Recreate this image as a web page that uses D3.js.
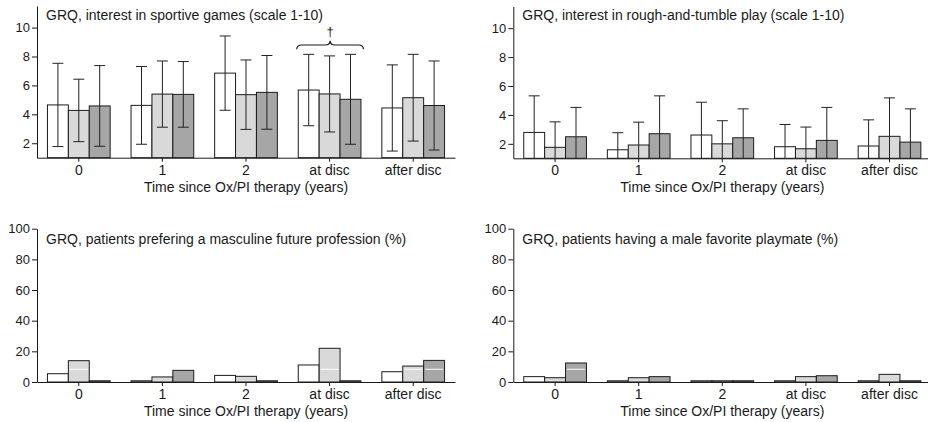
<!DOCTYPE html>
<html>
<head>
<meta charset="utf-8">
<script src="https://cdn.jsdelivr.net/npm/d3@7"></script>
<style>
  body { margin: 0; background: #fff; }
  svg { display: block; font-family: Arial, "Liberation Sans", Helvetica, sans-serif; }
</style>
</head>
<body>
<svg id="chart" width="928" height="422"></svg>
<script>
// categories on x axis
var categories = ["0", "1", "2", "at disc", "after disc"]
var seriesColors = ["#ffffff", "#d9d9d9", "#a6a6a6"]

// interest in sportive games (mean, sd)
var sportMeanA = [4.65, 4.62, 6.85, 5.68, 4.44]
var sportMeanB = [4.27, 5.40, 5.36, 5.41, 5.15]
var sportMeanC = [4.58, 5.38, 5.52, 5.04, 4.61]
var sportSdA = [2.88, 2.69, 2.57, 2.47, 2.98]
var sportSdB = [2.16, 2.29, 2.40, 2.63, 3.00]
var sportSdC = [2.79, 2.27, 2.55, 3.11, 3.08]

// interest in rough-and-tumble play (mean, sd)
var roughMeanA = [2.79, 1.59, 2.61, 1.80, 1.85]
var roughMeanB = [1.76, 1.92, 2.00, 1.66, 2.52]
var roughMeanC = [2.49, 2.70, 2.42, 2.24, 2.12]
var roughSdA = [2.53, 1.18, 2.27, 1.54, 1.81]
var roughSdB = [1.76, 1.58, 1.60, 1.50, 2.66]
var roughSdC = [2.03, 2.62, 2.00, 2.28, 2.30]

// masculine future profession (%)
var profA = [5.4, 0.8, 4.3, 11.1, 6.7]
var profB = [13.9, 3.3, 3.7, 22.0, 10.4]
var profC = [0.8, 7.6, 0.8, 0.8, 14.1]

// male favorite playmate (%)
var mateA = [3.5, 0.8, 0.8, 0.8, 0.8]
var mateB = [2.8, 2.8, 0.8, 3.5, 5.0]
var mateC = [12.4, 3.5, 0.8, 4.1, 0.8]

var refLevel = 8.3   // white line drawn inside % bars
var scaleTicks = [2, 4, 6, 8, 10]
var pctTicks = [0, 20, 40, 60, 80, 100]
var xTitle = "Time since Ox/PI therapy (years)"

var svg = d3.select("#chart")

var drawPanel = function (p) {
  var g = svg.append("g")

  var x = d3.scaleBand()
            .domain(categories)
            .range([p.left, p.left + 418])
            .paddingInner(0.25)
            .paddingOuter(0.125)
  var xs = d3.scaleBand()
             .domain([0, 1, 2])
             .range([0, x.bandwidth()])
  var y = d3.scaleLinear()
            .domain(p.domain)
            .range([p.bottom, p.top])

  var rows = []
  p.means.forEach(function (m, s) {
    m.forEach(function (v, i) {
      rows.push({cat: categories[i], s: s, v: v, sd: p.sds ? p.sds[s][i] : null})
    })
  })

  g.selectAll("rect.bar")
   .data(rows)
   .enter()
   .append("rect")
   .attr("class", "bar")
   .attr("x", d => x(d.cat) + xs(d.s))
   .attr("y", d => y(d.v))
   .attr("width", xs.bandwidth())
   .attr("height", d => y(p.domain[0]) - y(d.v))
   .attr("fill", d => seriesColors[d.s])
   .attr("stroke", "#1c1c1c")
   .attr("stroke-width", 1)

  if (p.ref != null) {
    g.selectAll("line.ref")
     .data(rows.filter(d => d.v > p.ref))
     .enter()
     .append("line")
     .attr("x1", d => x(d.cat) + xs(d.s) + 1.5)
     .attr("x2", d => x(d.cat) + xs(d.s) + xs.bandwidth() - 1.5)
     .attr("y1", y(p.ref))
     .attr("y2", y(p.ref))
     .attr("stroke", "#fff")
     .attr("stroke-width", 1)
  }

  if (p.sds) {
    var lo = p.domain[0]
    var eb = g.selectAll("g.err")
              .data(rows)
              .enter()
              .append("g")
              .attr("stroke", "#222")
              .attr("stroke-width", 1)
    var cx = d => x(d.cat) + xs(d.s) + xs.bandwidth() / 2
    eb.append("line")
      .attr("x1", cx).attr("x2", cx)
      .attr("y1", d => y(d.v + d.sd))
      .attr("y2", d => y(Math.max(lo, d.v - d.sd)))
    eb.append("line")
      .attr("x1", d => cx(d) - 5.5).attr("x2", d => cx(d) + 5.5)
      .attr("y1", d => y(d.v + d.sd)).attr("y2", d => y(d.v + d.sd))
    eb.filter(d => d.v - d.sd > lo)
      .append("line")
      .attr("x1", d => cx(d) - 5.5).attr("x2", d => cx(d) + 5.5)
      .attr("y1", d => y(d.v - d.sd)).attr("y2", d => y(d.v - d.sd))
  }

  var ya = g.append("g")
            .attr("transform", "translate(" + p.left + ",0)")
            .call(d3.axisLeft(y).tickValues(p.ticks).tickSize(5).tickSizeOuter(0).tickPadding(2))
  var xa = g.append("g")
            .attr("transform", "translate(0," + p.bottom + ")")
            .call(d3.axisBottom(x).tickSize(4).tickSizeOuter(0).tickPadding(3))
  ;[ya, xa].forEach(function (a) {
    a.attr("font-family", null).attr("font-size", 14)
    a.selectAll("path, line").attr("stroke", "#1a1a1a")
    a.selectAll("text").attr("fill", "#1a1a1a")
  })
  ya.selectAll("text").attr("font-size", 13)

  g.append("text")
   .attr("x", p.left + 418 / 2)
   .attr("y", p.bottom + 34)
   .attr("text-anchor", "middle")
   .attr("font-size", 14)
   .attr("fill", "#1a1a1a")
   .text(xTitle)

  g.append("text")
   .attr("x", p.left + 9)
   .attr("y", p.titleY)
   .attr("font-size", 14)
   .attr("fill", "#1a1a1a")
   .text(p.title)

  if (p.brace) {
    var x1 = x(p.brace) - 1.5, x2 = x(p.brace) + x.bandwidth() + 2.5
    var mid = (x1 + x2) / 2, yb = 49.3, ym = 45, yt = 40.7, q = 5
    g.append("path")
     .attr("d", "M" + x1 + "," + yb + "Q" + x1 + "," + ym + " " + (x1 + q) + "," + ym +
                "L" + (mid - q) + "," + ym + "Q" + mid + "," + ym + " " + mid + "," + yt +
                "Q" + mid + "," + ym + " " + (mid + q) + "," + ym +
                "L" + (x2 - q) + "," + ym + "Q" + x2 + "," + ym + " " + x2 + "," + yb)
     .attr("fill", "none")
     .attr("stroke", "#1a1a1a")
     .attr("stroke-width", 1.2)
    g.append("text")
     .attr("x", mid)
     .attr("y", 36)
     .attr("text-anchor", "middle")
     .attr("font-size", 13)
     .attr("fill", "#1a1a1a")
     .text("\u2020")
  }
}

drawPanel({
  left: 37, bottom: 157.7, top: 5.9, domain: [1, 11.5], ticks: scaleTicks, titleY: 20,
  title: "GRQ, interest in sportive games (scale 1-10)",
  means: [sportMeanA, sportMeanB, sportMeanC], sds: [sportSdA, sportSdB, sportSdC],
  brace: "at disc"
})
drawPanel({
  left: 513.3, bottom: 158.3, top: 6.5, domain: [1, 11.5], ticks: scaleTicks, titleY: 20,
  title: "GRQ, interest in rough-and-tumble play (scale 1-10)",
  means: [roughMeanA, roughMeanB, roughMeanC], sds: [roughSdA, roughSdB, roughSdC]
})
drawPanel({
  left: 37, bottom: 382, top: 228.7, domain: [0, 100], ticks: pctTicks, titleY: 244,
  title: "GRQ, patients prefering a masculine future profession (%)",
  means: [profA, profB, profC], ref: refLevel
})
drawPanel({
  left: 513.3, bottom: 382, top: 228.7, domain: [0, 100], ticks: pctTicks, titleY: 244,
  title: "GRQ, patients having a male favorite playmate (%)",
  means: [mateA, mateB, mateC], ref: refLevel
})
</script>
</body>
</html>
